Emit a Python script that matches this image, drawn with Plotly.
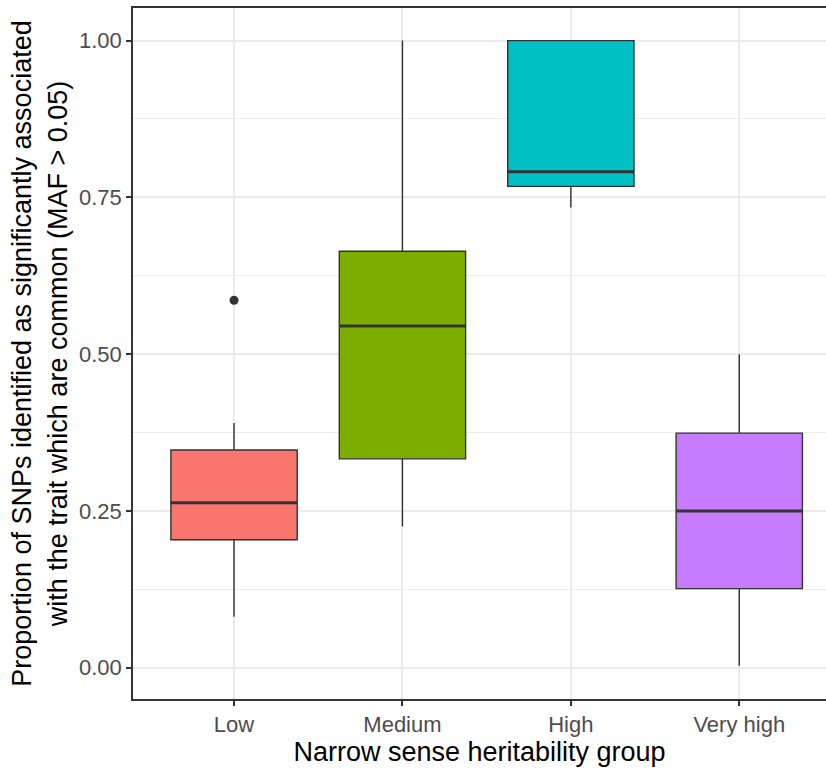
import plotly.graph_objects as go

categories = ["Low", "Medium", "High", "Very high"]
lower_whisker = [0.081, 0.225, 0.734, 0.003]
q1 = [0.204, 0.333, 0.7675, 0.126]
median = [0.263, 0.545, 0.791, 0.250]
q3 = [0.347, 0.664, 1.0, 0.374]
upper_whisker = [0.390, 1.0, 1.0, 0.500]
outlier_group = ["Low"]
outlier_value = [0.586]
colors = ["#F8766D", "#7CAE00", "#00BFC4", "#C77CFF"]

box_width = 0.75
pos = {c: i for i, c in enumerate(categories)}

fig = go.Figure()
for i, c in enumerate(categories):
    fig.add_trace(go.Box(
        x=[i], q1=[q1[i]], median=[median[i]], q3=[q3[i]],
        lowerfence=[lower_whisker[i]], upperfence=[upper_whisker[i]],
        width=box_width, whiskerwidth=0, boxpoints=False,
        fillcolor=colors[i], line=dict(color="#333333", width=1.4),
        showlegend=False, hoverinfo="skip",
    ))
    # thicker median line as in ggplot
    fig.add_trace(go.Scatter(
        x=[i - box_width / 2, i + box_width / 2], y=[median[i], median[i]],
        mode="lines", line=dict(color="#333333", width=3),
        showlegend=False, hoverinfo="skip",
    ))

fig.add_trace(go.Scatter(
    x=[pos[g] for g in outlier_group], y=outlier_value, mode="markers",
    marker=dict(color="#333333", size=9), showlegend=False,
))

font = "Liberation Sans, Arial, sans-serif"
fig.update_layout(
    width=826, height=770,
    margin=dict(l=133, r=0, t=8, b=71),
    paper_bgcolor="white", plot_bgcolor="white",
    font=dict(family=font, color="black"),
    xaxis=dict(
        range=[-0.6, 3.515], tickvals=list(range(len(categories))), ticktext=categories,
        showline=True, linecolor="#333333", linewidth=1.5, mirror=True,
        showgrid=True, gridcolor="#EBEBEB", gridwidth=1.5,
        ticks="outside", ticklen=5, tickcolor="#333333", tickwidth=1.5,
        tickfont=dict(size=22, color="#4D4D4D", family=font),
        title=dict(text="Narrow sense heritability group", font=dict(size=27, color="black", family=font), standoff=2),
        zeroline=False,
    ),
    yaxis=dict(
        range=[-0.05, 1.052], tickvals=[0, 0.25, 0.5, 0.75, 1.0],
        ticktext=["0.00", "0.25", "0.50", "0.75", "1.00"],
        showline=True, linecolor="#333333", linewidth=1.5, mirror=False,
        showgrid=True, gridcolor="#EBEBEB", gridwidth=1.5,
        minor=dict(tickvals=[0.125, 0.375, 0.625, 0.875], showgrid=True, gridcolor="#EBEBEB", gridwidth=1, ticks=""),
        ticks="outside", ticklen=5, tickcolor="#333333", tickwidth=1.5,
        tickfont=dict(size=22, color="#4D4D4D", family=font),
        title=dict(text="Proportion of SNPs identified as significantly associated<br>with the trait which are common (MAF > 0.05)",
                   font=dict(size=27, color="black", family=font), standoff=4),
        zeroline=False,
    ),
)

fig.write_html("out.html")
